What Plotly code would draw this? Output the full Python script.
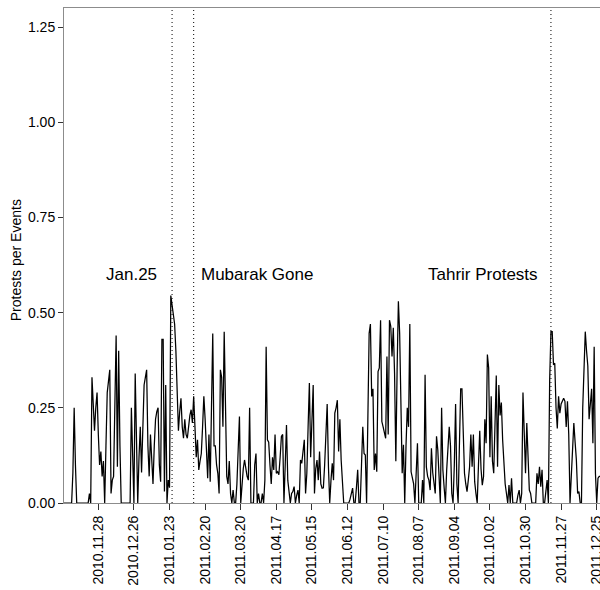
import pandas as pd
import plotly.graph_objects as go

# Daily ratio of protests to reported events, one list per month
nov_2010 = [0, 0, 0, 0, 0, 0, 0, 0.08, 0.25, 0.10,
            0, 0, 0, 0, 0, 0, 0, 0, 0, 0,
            0.025, 0, 0.33, 0.25, 0.19, 0.25, 0.29, 0.18, 0.10, 0.135]
dec_2010 = [0.07, 0.11, 0, 0.15, 0.29, 0.32, 0.35, 0.025, 0.06, 0.07,
            0.30, 0.44, 0.095, 0.40, 0.15, 0, 0, 0, 0, 0,
            0, 0, 0, 0.25, 0.08, 0, 0.34, 0.10, 0, 0.12, 0.20]
jan_2011 = [0.08, 0.20, 0.31, 0.33, 0.35, 0.15, 0.07, 0.18, 0.10, 0.05,
            0.15, 0.22, 0.24, 0.25, 0.10, 0.056, 0.43, 0.43, 0.03, 0.31,
            0, 0.06, 0.04, 0.545, 0.52, 0.50, 0.47, 0.40, 0.30, 0.19, 0.24]
feb_2011 = [0.275, 0.20, 0.17, 0.22, 0.18, 0.17, 0.21, 0.23, 0.245, 0.21,
            0.28, 0.21, 0.12, 0.166, 0.087, 0.11, 0.13, 0.20, 0.28, 0.22,
            0.12, 0.065, 0.18, 0.056, 0.25, 0.445, 0.15, 0.15]
mar_2011 = [0.10, 0.078, 0.025, 0.35, 0.33, 0.20, 0.45, 0.20, 0.07, 0.05,
            0.11, 0.025, 0, 0.034, 0, 0, 0.05, 0.14, 0.227, 0,
            0.06, 0.09, 0.113, 0.087, 0.07, 0.06, 0.25, 0, 0, 0, 0.10]
apr_2011 = [0.13, 0, 0.025, 0, 0, 0.025, 0, 0.06, 0.41, 0.166,
            0.16, 0.10, 0.05, 0.12, 0.087, 0.18, 0.078, 0.082, 0.074, 0.12,
            0.175, 0.18, 0, 0.10, 0.205, 0.06, 0.02, 0, 0.025, 0.03]
may_2011 = [0.043, 0, 0.02, 0.034, 0, 0.113, 0.104, 0.13, 0.166, 0.025,
            0.078, 0.20, 0.315, 0.12, 0.20, 0.31, 0.025, 0.09, 0.113, 0.06,
            0.135, 0.05, 0.039, 0.04, 0.10, 0.18, 0.26, 0.095, 0, 0.06, 0.104]
jun_2011 = [0.06, 0.236, 0.25, 0.27, 0.135, 0.22, 0.113, 0.05, 0, 0,
            0, 0, 0, 0.01, 0.025, 0.039, 0, 0, 0.04, 0.087,
            0, 0, 0.10, 0.20, 0.13, 0.126, 0, 0.30, 0.446, 0.47]
jul_2011 = [0.28, 0.30, 0.087, 0.13, 0.082, 0.345, 0.355, 0.48, 0.214, 0.20,
            0.18, 0.17, 0.385, 0.18, 0.48, 0.464, 0.385, 0.46, 0.34, 0.11,
            0.35, 0.53, 0.446, 0.20, 0.078, 0.153, 0, 0.15, 0.25, 0.20, 0.47]
aug_2011 = [0.082, 0.06, 0.05, 0, 0.08, 0.157, 0, 0, 0, 0.06,
            0, 0.337, 0.095, 0.07, 0.06, 0.034, 0.144, 0.08, 0.05, 0.025,
            0.175, 0.14, 0.07, 0, 0.25, 0.087, 0.04, 0, 0.087, 0.15, 0.20]
sep_2011 = [0.15, 0.025, 0, 0.10, 0.26, 0.05, 0, 0.20, 0.30, 0.30,
            0.15, 0.078, 0.05, 0.03, 0.06, 0.095, 0.18, 0.095, 0.18, 0.056,
            0.025, 0, 0.10, 0.19, 0.09, 0.047, 0.07, 0.22, 0.157, 0.39]
oct_2011 = [0.355, 0.12, 0.28, 0.11, 0.078, 0.20, 0.335, 0.095, 0.31, 0.23,
            0.264, 0.166, 0.087, 0.05, 0.025, 0, 0.047, 0, 0.065, 0,
            0, 0, 0, 0.02, 0.034, 0, 0.025, 0.29, 0.15, 0.078, 0.21]
nov_2011 = [0.12, 0.034, 0.025, 0, 0, 0, 0, 0.078, 0.05, 0.095,
            0.043, 0.087, 0, 0, 0.03, 0.06, 0, 0.324, 0.45, 0.45,
            0.363, 0.367, 0.25, 0.196, 0.28, 0.236, 0.26, 0.27, 0.275, 0.267]
dec_2011 = [0.20, 0.267, 0.18, 0, 0.08, 0.13, 0.21, 0.16, 0.113, 0.025,
            0.03, 0, 0, 0.25, 0.35, 0.45, 0.40, 0.36, 0.22, 0.26,
            0.30, 0.157, 0.41, 0.078, 0, 0.065, 0.07, 0.07]

start_date = "2010-11-01"

# Key events marked on the timeline
event_dates = ["2011-01-25", "2011-02-11", "2011-11-19"]
event_labels = ["Jan.25", "Mubarak Gone", "Tahrir Protests"]
label_level = 0.6

y_ticks = [0, 0.25, 0.5, 0.75, 1.0, 1.25]

ratio = (nov_2010 + dec_2010 + jan_2011 + feb_2011 + mar_2011 + apr_2011
         + may_2011 + jun_2011 + jul_2011 + aug_2011 + sep_2011 + oct_2011
         + nov_2011 + dec_2011)
days = pd.date_range(start_date, periods=len(ratio), freq="D")

FONT = "Liberation Sans, Arial, sans-serif"
FRAME = "#8c8c8c"

fig = go.Figure(
    go.Scatter(
        x=days, y=ratio, mode="lines",
        line=dict(color="black", width=1.25),
        hoverinfo="skip", showlegend=False,
    )
)

# dotted verticals for each event
for d in event_dates:
    fig.add_shape(
        type="line", xref="x", yref="paper",
        x0=d, x1=d, y0=0, y1=1,
        line=dict(color="black", width=1, dash="1px,3px"),
        layer="above",
    )

# event labels: left of the line, except the resignation which sits right
placements = [("right", -13), ("left", 5), ("right", -11)]
for d, txt, (anchor, shift) in zip(event_dates, event_labels, placements):
    fig.add_annotation(
        x=d, y=label_level, xref="x", yref="y",
        text=txt, showarrow=False, xanchor=anchor, yanchor="middle",
        xshift=shift, font=dict(family=FONT, size=17, color="black"),
    )

fig.add_annotation(
    x=-0.088, y=0.49, xref="paper", yref="paper",
    text="Protests per Events", textangle=-90, showarrow=False,
    xanchor="center", yanchor="middle",
    font=dict(family=FONT, size=14, color="black"),
)

fig.update_layout(
    width=600, height=590,
    margin=dict(l=64, r=0, t=8, b=87, autoexpand=False),
    paper_bgcolor="white", plot_bgcolor="white",
    font=dict(family=FONT, color="black"),
    showlegend=False,
)

fig.update_xaxes(
    type="date",
    range=[start_date, "2011-12-27 14:00"],
    tick0="2010-11-28", dtick=28 * 86400000,
    tickformat="%Y.%m.%d", tickangle=-90,
    ticks="outside", ticklen=6, tickcolor="#333", tickwidth=1,
    tickfont=dict(family=FONT, size=14, color="black"),
    ticklabeloverflow="allow", automargin=False,
    showline=True, linecolor=FRAME, linewidth=1, mirror=True,
    showgrid=False, zeroline=False, layer="below traces",
)

fig.update_yaxes(
    range=[0, 1.3],
    tickvals=y_ticks, tickformat=".2f",
    ticks="outside", ticklen=5, tickcolor="#333", tickwidth=1,
    tickfont=dict(family=FONT, size=14, color="black"),
    automargin=False,
    showline=True, linecolor=FRAME, linewidth=1,
    showgrid=False, zeroline=False, layer="below traces",
)

fig.write_html("out.html")
